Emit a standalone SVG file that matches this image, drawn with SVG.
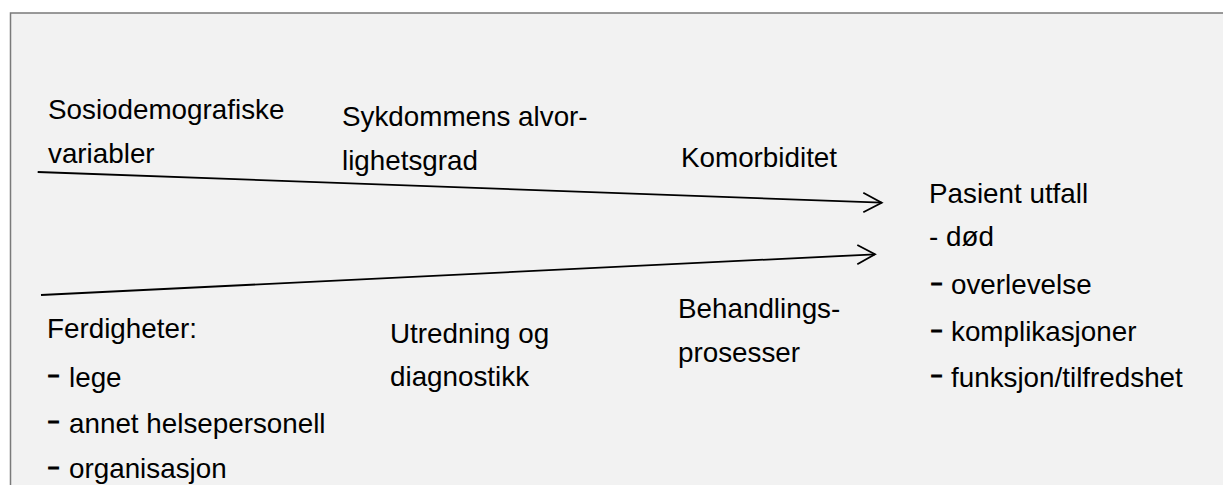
<svg xmlns="http://www.w3.org/2000/svg" width="1223" height="485" viewBox="0 0 1223 485">
<style>
text{font-family:"Liberation Sans",Arial,sans-serif;font-size:27.8px;fill:#000}
.d{font-size:20px;font-weight:bold;stroke:#000;stroke-width:1}
.c{fill:none;stroke:#000;stroke-width:1.8}
</style>
<rect x="0" y="0" width="1223" height="485" fill="#fff"/>
<rect id="frame" x="10.5" y="13" width="1240" height="500" fill="#f2f2f2" stroke="#7a7a7a" stroke-width="1.5"/>
<g id="connectors">
<path class="c" d="M37.7,172 L881.7,202.7"/>
<path class="c" d="M863.3,192.7 L881.7,202.7 L863.3,212.3"/>
<path class="c" d="M41,295 L875,254.3"/>
<path class="c" d="M857.3,245 L875,254.3 L857.3,264.3"/>
</g>
<g id="sosio"><text x="48" y="119">Sosiodemografiske</text><text x="48" y="163">variabler</text></g>
<g id="sykdom"><text x="342" y="126">Sykdommens alvor-</text><text x="342" y="170">lighetsgrad</text></g>
<g id="komorb"><text x="681" y="166.7">Komorbiditet</text></g>
<g id="ferdig">
<text x="47" y="338.3">Ferdigheter:</text>
<text x="48" y="386.7"><tspan class="d" dy="-5.5">–</tspan><tspan x="69" dy="5.5">lege</tspan></text>
<text x="48" y="432.7"><tspan class="d" dy="-5.5">–</tspan><tspan x="69" dy="5.5">annet helsepersonell</tspan></text>
<text x="48" y="478.3"><tspan class="d" dy="-5.5">–</tspan><tspan x="69" dy="5.5">organisasjon</tspan></text>
</g>
<g id="utredning"><text x="390" y="343.3">Utredning og</text><text x="390" y="386">diagnostikk</text></g>
<g id="behandling"><text x="678" y="317.7">Behandlings-</text><text x="678" y="361.7">prosesser</text></g>
<g id="utfall">
<text x="929" y="202.7">Pasient utfall</text>
<text x="929" y="246">- død</text>
<text x="931" y="294.3"><tspan class="d" dy="-5.5">–</tspan><tspan x="951" dy="5.5">overlevelse</tspan></text>
<text x="931" y="341"><tspan class="d" dy="-5.5">–</tspan><tspan x="951" dy="5.5">komplikasjoner</tspan></text>
<text x="931" y="386.7"><tspan class="d" dy="-5.5">–</tspan><tspan x="951" dy="5.5">funksjon/tilfredshet</tspan></text>
</g>
</svg>
